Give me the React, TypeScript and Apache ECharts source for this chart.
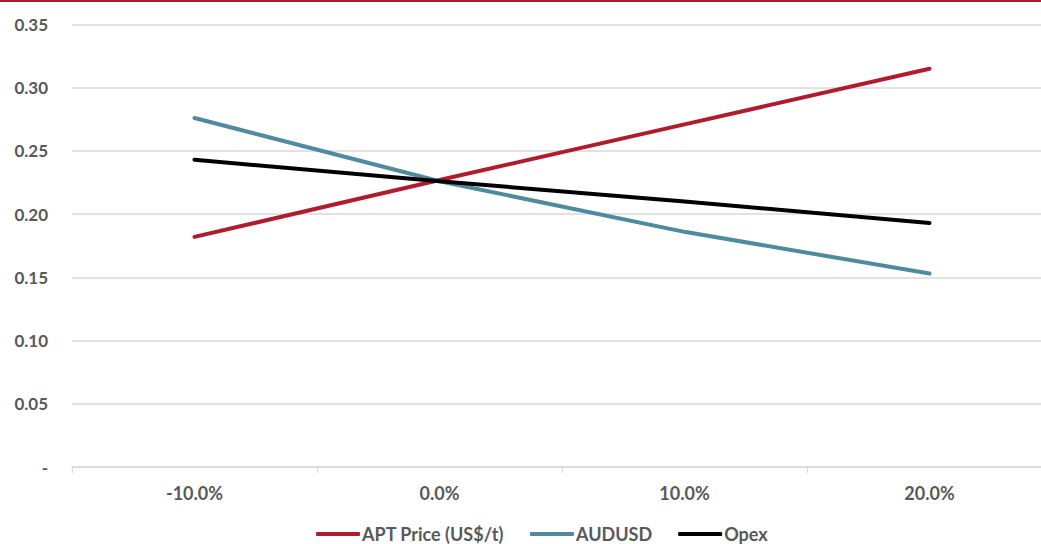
import React, { useEffect, useRef } from "react";
import * as echarts from "echarts";

const categories = ["-10.0%", "0.0%", "10.0%", "20.0%"];
const aptPrice = [0.182, 0.227, 0.271, 0.315];
const audusd = [0.276, 0.226, 0.186, 0.153];
const opex = [0.243, 0.226, 0.21, 0.193];
const seriesNames = ["APT Price (US$/t)", "AUDUSD", "Opex"];
const colors = ["#B01C2E", "#4F8A9E", "#000000"];

const FONT = "Lato, 'Open Sans', sans-serif";
const GREY = "#595959";

export default function App() {
  const ref = useRef<HTMLDivElement>(null);
  useEffect(() => {
    document.body.style.margin = "0";
    const chart = echarts.init(ref.current!, null, { renderer: "svg" });
    const data = [aptPrice, audusd, opex];
    chart.setOption({
      animation: false,
      backgroundColor: "#ffffff",
      graphic: [
        {
          type: "rect",
          shape: { x: 0, y: 0, width: 1052, height: 2 },
          style: { fill: "#B01C2E" },
        },
      ],
      grid: { left: 72, right: 0, top: 24.5, bottom: 77 },
      xAxis: {
        type: "category",
        data: categories,
        boundaryGap: true,
        axisLine: { lineStyle: { color: "#D9D9D9", width: 1.5 } },
        axisTick: { show: true, length: 6, lineStyle: { color: "#D9D9D9" } },
        axisLabel: {
          color: GREY,
          fontFamily: FONT,
          fontWeight: "bold",
          fontSize: 18,
          margin: 17,
        },
      },
      yAxis: {
        type: "value",
        min: 0,
        max: 0.35,
        interval: 0.05,
        axisLine: { show: false },
        axisTick: { show: false },
        splitLine: { lineStyle: { color: "#D9D9D9", width: 1.5 } },
        axisLabel: {
          color: GREY,
          fontFamily: FONT,
          fontWeight: "bold",
          fontSize: 17,
          margin: 24,
          formatter: (v: number) => (v === 0 ? "-" : v.toFixed(2)),
        },
      },
      legend: {
        top: 525,
        left: 316,
        padding: 0,
        icon: "roundRect",
        itemWidth: 44,
        itemHeight: 4,
        itemGap: 26,
        textStyle: {
          color: GREY,
          fontFamily: FONT,
          fontWeight: "bold",
          fontSize: 18,
          lineHeight: 18,
          padding: [0, 0, 0, -3],
        },
        data: seriesNames,
      },
      series: seriesNames.map((name, i) => ({
        name,
        type: "line",
        data: data[i],
        symbol: "none",
        color: colors[i],
        lineStyle: { color: colors[i], width: 4, cap: "round" },
      })),
    });
    return () => chart.dispose();
  }, []);
  return (
    <div style={{ width: 1041, height: 544, overflow: "hidden" }}>
      <div ref={ref} style={{ width: 1052, height: 544 }} />
    </div>
  );
}
